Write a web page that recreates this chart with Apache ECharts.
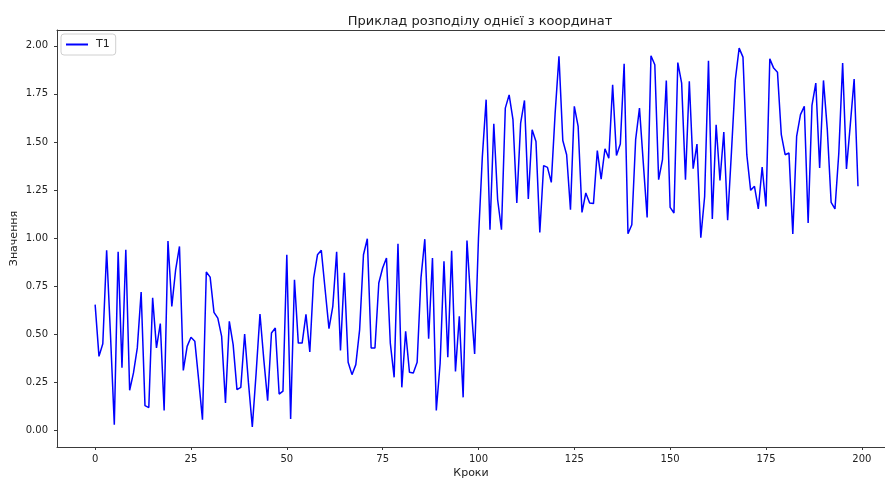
<!DOCTYPE html>
<html>
<head>
<meta charset="utf-8">
<script src="https://cdn.jsdelivr.net/npm/echarts@6/dist/echarts.min.js"></script>
<style>
  html, body { margin: 0; padding: 0; background: #fff; }
  #chart { width: 885px; height: 479px; }
</style>
</head>
<body>
<div id="chart"></div>
<script>
// Values of the T1 coordinate at each step
const t1Values = [
  0.655, 0.386, 0.452, 0.937, 0.5, 0.031, 0.93, 0.327, 0.94, 0.21,
  0.30, 0.43, 0.72, 0.13, 0.12, 0.69, 0.43, 0.556, 0.105, 0.985,
  0.646, 0.836, 0.957, 0.313, 0.438, 0.485, 0.465, 0.265, 0.057, 0.824,
  0.798, 0.615, 0.585, 0.49, 0.144, 0.568, 0.447, 0.213, 0.225, 0.502,
  0.248, 0.019, 0.30, 0.606, 0.369, 0.156, 0.507, 0.533, 0.19, 0.205,
  0.914, 0.061, 0.784, 0.455, 0.455, 0.604, 0.409, 0.793, 0.914, 0.937,
  0.732, 0.53, 0.646, 0.93, 0.417, 0.82, 0.355, 0.291, 0.343, 0.525,
  0.914, 0.997, 0.43, 0.43, 0.767, 0.845, 0.897, 0.455, 0.277, 0.971,
  0.225, 0.516, 0.303, 0.30, 0.355, 0.793, 0.995, 0.478, 0.897, 0.105,
  0.35, 0.88, 0.381, 0.935, 0.308, 0.594, 0.173, 0.988, 0.67, 0.398,
  1.0, 1.42, 1.72, 1.044, 1.595, 1.2, 1.044, 1.676, 1.745, 1.616,
  1.183, 1.598, 1.716, 1.204, 1.564, 1.503, 1.03, 1.377, 1.368, 1.29,
  1.65, 1.945, 1.508, 1.434, 1.148, 1.685, 1.581, 1.134, 1.235, 1.183,
  1.18, 1.455, 1.307, 1.465, 1.416, 1.797, 1.43, 1.489, 1.906, 1.023,
  1.07, 1.512, 1.676, 1.39, 1.108, 1.948, 1.901, 1.304, 1.408, 1.82,
  1.16, 1.131, 1.913, 1.806, 1.304, 1.815, 1.361, 1.489, 1.003, 1.217,
  1.922, 1.1, 1.59, 1.3, 1.552, 1.093, 1.45, 1.823, 1.988, 1.941,
  1.434, 1.249, 1.27, 1.152, 1.37, 1.165, 1.932, 1.884, 1.863, 1.538,
  1.434, 1.443, 1.022, 1.529, 1.642, 1.685, 1.079, 1.69, 1.806, 1.365,
  1.82, 1.564, 1.186, 1.152, 1.443, 1.91, 1.36, 1.59, 1.827, 1.27
];

// Tick marks on each axis
const xTicks = [0, 25, 50, 75, 100, 125, 150, 175, 200];
const yTicks = [0, 0.25, 0.5, 0.75, 1.0, 1.25, 1.5, 1.75, 2.0];

const seriesName = 'T1';
const titleText = 'Приклад розподілу однієї з координат';
const xName = 'Кроки';
const yName = 'Значення';

// Each step index paired with its value
const points = t1Values.map((v, step) => [step, v]);

const font = 'DejaVu Sans, sans-serif';
const ink = '#222';
const spine = '#3a3a3a';

const chart = echarts.init(document.getElementById('chart'), null, { renderer: 'canvas' });

chart.setOption({
  animation: false,
  backgroundColor: '#fff',
  title: {
    text: titleText,
    left: 475,
    textAlign: 'center',
    top: 10,
    textStyle: { fontFamily: font, fontSize: 13, fontWeight: 'normal', color: ink }
  },
  legend: {
    data: [seriesName],
    left: 61,
    top: 34,
    orient: 'vertical',
    padding: [5, 6, 5, 5],
    itemWidth: 22,
    itemHeight: 2,
    icon: 'rect',
    backgroundColor: 'rgba(255,255,255,0.8)',
    borderColor: '#d0d0d0',
    borderWidth: 1,
    borderRadius: 3,
    textStyle: { fontFamily: font, fontSize: 11, color: ink, padding: [0, 0, 0, 3] }
  },
  grid: {
    left: 57,
    right: 0,
    top: 30,
    bottom: 32,
    containLabel: false,
    outerBoundsMode: 'none'
  },
  xAxis: [
    {
      type: 'value',
      min: -9.95,
      max: 206.05,
      name: xName,
      nameLocation: 'middle',
      nameGap: 21,
      nameMoveOverlap: false,
      nameTextStyle: { fontFamily: font, fontSize: 11, color: ink },
      axisLine: { show: true, onZero: false, lineStyle: { color: spine, width: 1 } },
      axisTick: { show: true, inside: false, length: 3, customValues: xTicks, lineStyle: { color: spine } },
      axisLabel: {
        show: true, margin: 7, customValues: xTicks,
        fontFamily: font, fontSize: 10, color: ink,
        formatter: (v) => String(v)
      },
      splitLine: { show: false }
    },
    {
      type: 'value',
      position: 'top',
      min: -9.95,
      max: 206.05,
      axisLine: { show: true, onZero: false, lineStyle: { color: spine, width: 1 } },
      axisTick: { show: false },
      axisLabel: { show: false },
      splitLine: { show: false }
    }
  ],
  yAxis: {
    type: 'value',
    min: -0.085,
    max: 2.082,
    name: yName,
    nameLocation: 'middle',
    nameGap: 37,
    nameRotate: 90,
    nameMoveOverlap: false,
    nameTextStyle: { fontFamily: font, fontSize: 11, color: ink },
    axisLine: { show: true, onZero: false, lineStyle: { color: spine, width: 1 } },
    axisTick: { show: true, inside: false, length: 3, customValues: yTicks, lineStyle: { color: spine } },
    axisLabel: {
      show: true, margin: 9, customValues: yTicks,
      fontFamily: font, fontSize: 10, color: ink,
      formatter: (v) => v.toFixed(2)
    },
    splitLine: { show: false }
  },
  series: [
    {
      name: seriesName,
      type: 'line',
      xAxisIndex: 0,
      data: points,
      showSymbol: false,
      symbol: 'none',
      color: '#0000ff',
      lineStyle: { color: '#0000ff', width: 1.5 },
      clip: true
    }
  ]
});
</script>
</body>
</html>
